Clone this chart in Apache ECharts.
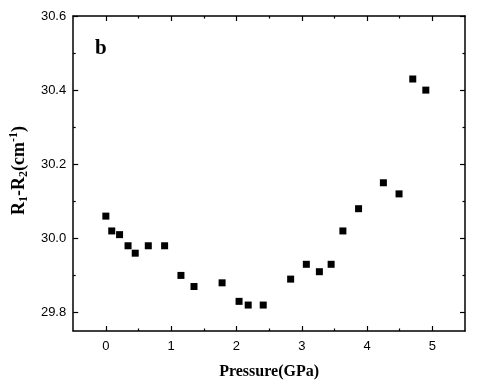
<!DOCTYPE html>
<html>
<head>
<meta charset="utf-8">
<script src="https://cdn.jsdelivr.net/npm/echarts@6/dist/echarts.min.js"></script>
<style>
    html, body { margin: 0; padding: 0; background: #fff; }
    #chart { width: 480px; height: 391px; }
</style>
</head>
<body>
<div id="chart"></div>
<script>
// pressure (GPa)
var pressure = [0.00, 0.09, 0.21, 0.34, 0.45, 0.65, 0.90, 1.15, 1.35, 1.78, 2.04, 2.18, 2.41,
    2.83, 3.07, 3.27, 3.45, 3.63, 3.87, 4.25, 4.49, 4.70, 4.90];
// R1-R2 (cm-1)
var split = [30.06, 30.02, 30.01, 29.98, 29.96, 29.98, 29.98, 29.90, 29.87, 29.88, 29.83, 29.82, 29.82,
    29.89, 29.93, 29.91, 29.93, 30.02, 30.08, 30.15, 30.12, 30.43, 30.40];

var xMajor = [0, 1, 2, 3, 4, 5];
var xMinor = [0.5, 1.5, 2.5, 3.5, 4.5];
var yMajor = [29.8, 30.0, 30.2, 30.4, 30.6];
var yMinor = [29.9, 30.1, 30.3, 30.5];

window.onload = function () {
    var myChart = echarts.init(document.getElementById('chart'));

    var serif = '"Liberation Serif", "Times New Roman", serif';
    var sans = '"Liberation Sans", Arial, sans-serif';
    var lineStyle = { color: '#000', width: 1.5 };

    // 坐标轴：主刻度/次刻度分开画
    function xAx(pos, ticks, len, withLine, withLabel) {
        return {
            type: 'value', position: pos, min: -0.5, max: 5.5,
            axisLine: { show: withLine, onZero: false, lineStyle: lineStyle },
            axisTick: { show: true, inside: true, length: len, customValues: ticks, lineStyle: { color: '#000', width: 1.2 } },
            axisLabel: withLabel ? { show: true, customValues: ticks, color: '#000', fontSize: 13, fontFamily: sans, margin: 9 } : { show: false },
            splitLine: { show: false }
        };
    }
    function yAx(pos, ticks, len, withLine, withLabel) {
        return {
            type: 'value', position: pos, min: 29.75, max: 30.6,
            axisLine: { show: withLine, onZero: false, lineStyle: lineStyle },
            axisTick: { show: true, inside: true, length: len, customValues: ticks, lineStyle: { color: '#000', width: 1.2 } },
            axisLabel: withLabel ? {
                show: true, customValues: ticks, color: '#000', fontSize: 13, fontFamily: sans, margin: 7,
                formatter: function (v) { return v.toFixed(1); }
            } : { show: false },
            splitLine: { show: false }
        };
    }

    var xMain = xAx('bottom', xMajor, 5, true, true);
    xMain.name = 'Pressure(GPa)';
    xMain.nameLocation = 'middle';
    xMain.nameGap = 33;
    xMain.nameTextStyle = { color: '#000', fontSize: 16, fontWeight: 'bold', fontFamily: serif };

    var yMain = yAx('left', yMajor, 5, true, true);
    yMain.name = '{m|R}{s|1}{m|-R}{s|2}{m|(cm}{p|-1}{m|)}';
    yMain.nameLocation = 'middle';
    yMain.nameRotate = 90;
    yMain.nameGap = 43;
    yMain.nameTextStyle = {
        color: '#000',
        padding: [0, 0, 0, 6],
        rich: {
            m: { fontSize: 18, fontWeight: 'bold', fontFamily: serif, color: '#000', lineHeight: 22 },
            s: { fontSize: 12, fontWeight: 'bold', fontFamily: serif, color: '#000', lineHeight: 22, verticalAlign: 'bottom' },
            p: { fontSize: 12, fontWeight: 'bold', fontFamily: serif, color: '#000', lineHeight: 22, verticalAlign: 'top' }
        }
    };

    var option = {
        animation: false,
        backgroundColor: '#fff',
        title: {
            text: 'b', left: 90, top: 33,
            textStyle: { fontSize: 21, fontWeight: 'bold', fontFamily: serif, color: '#000' }
        },
        grid: { left: 73, right: 15, top: 16, bottom: 60 },
        xAxis: [
            xMain,
            xAx('bottom', xMinor, 2.5, false, false),
            xAx('top', xMajor, 5, true, false),
            xAx('top', xMinor, 2.5, false, false)
        ],
        yAxis: [
            yMain,
            yAx('left', yMinor, 2.5, false, false),
            yAx('right', yMajor, 5, true, false),
            yAx('right', yMinor, 2.5, false, false)
        ],
        series: [{
            type: 'scatter',
            xAxisIndex: 0,
            yAxisIndex: 0,
            symbol: 'rect',
            symbolSize: 7,
            itemStyle: { color: '#000', opacity: 1 },
            data: pressure.map(function (p, i) { return [p, split[i]]; })
        }]
    };
    myChart.setOption(option);
};
</script>
</body>
</html>
